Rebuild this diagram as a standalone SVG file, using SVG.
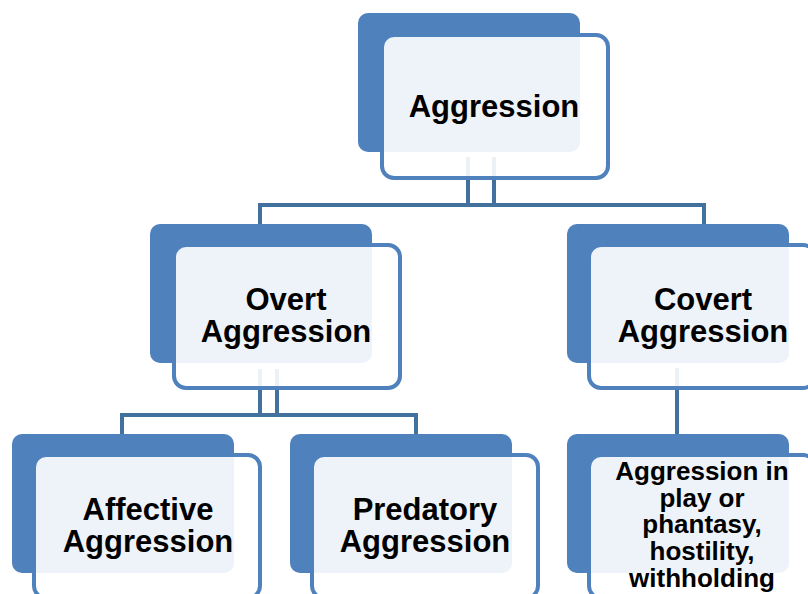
<svg xmlns="http://www.w3.org/2000/svg" width="808" height="594" viewBox="0 0 808 594">
<style>
.back{fill:#4f81bd}
.front{fill:#ffffff;fill-opacity:0.9;stroke:#4f81bd;stroke-width:4}
.conn{fill:none;stroke:#41719c;stroke-width:4}
.t{font-family:"Liberation Sans",Arial,sans-serif;font-weight:bold;font-size:31px;fill:#000;text-anchor:middle}
.s{font-size:26px}
</style>
<rect width="808" height="594" fill="#ffffff"/>
<g id="connectors">
<path class="conn" d="M468 157V205M494 157V205M258 205H706M260 205V226M704 205V226"/>
<path class="conn" d="M260 369V415M277 369V415M120 415H418M122 415V436M416 415V436"/>
<path class="conn" d="M677 368V436"/>
</g>
<g id="n-aggression">
<rect class="back" x="358" y="13" width="222" height="139" rx="10"/>
<rect class="front" x="382" y="35" width="226" height="143" rx="12"/>
<text class="t" x="494" y="117">Aggression</text>
</g>
<g id="n-overt">
<rect class="back" x="150" y="224" width="222" height="139" rx="10"/>
<rect class="front" x="174" y="245" width="226" height="143" rx="12"/>
<text class="t" x="286" y="310">Overt</text>
<text class="t" x="286" y="342">Aggression</text>
</g>
<g id="n-covert">
<rect class="back" x="567" y="224" width="222" height="139" rx="10"/>
<rect class="front" x="589" y="245" width="226" height="143" rx="12"/>
<text class="t" x="703" y="310">Covert</text>
<text class="t" x="703" y="342">Aggression</text>
</g>
<g id="n-affective">
<rect class="back" x="12" y="434" width="222" height="139" rx="10"/>
<rect class="front" x="34" y="455" width="226" height="143" rx="12"/>
<text class="t" x="148" y="520">Affective</text>
<text class="t" x="148" y="552">Aggression</text>
</g>
<g id="n-predatory">
<rect class="back" x="290" y="434" width="222" height="139" rx="10"/>
<rect class="front" x="312" y="455" width="226" height="143" rx="12"/>
<text class="t" x="425" y="520">Predatory</text>
<text class="t" x="425" y="552">Aggression</text>
</g>
<g id="n-covert-forms">
<rect class="back" x="567" y="434" width="222" height="139" rx="10"/>
<rect class="front" x="589" y="455" width="226" height="143" rx="12"/>
<text class="t s" x="702" y="480">Aggression in</text>
<text class="t s" x="702" y="507">play or</text>
<text class="t s" x="702" y="533">phantasy,</text>
<text class="t s" x="702" y="560">hostility,</text>
<text class="t s" x="702" y="587">withholding</text>
</g>
</svg>
